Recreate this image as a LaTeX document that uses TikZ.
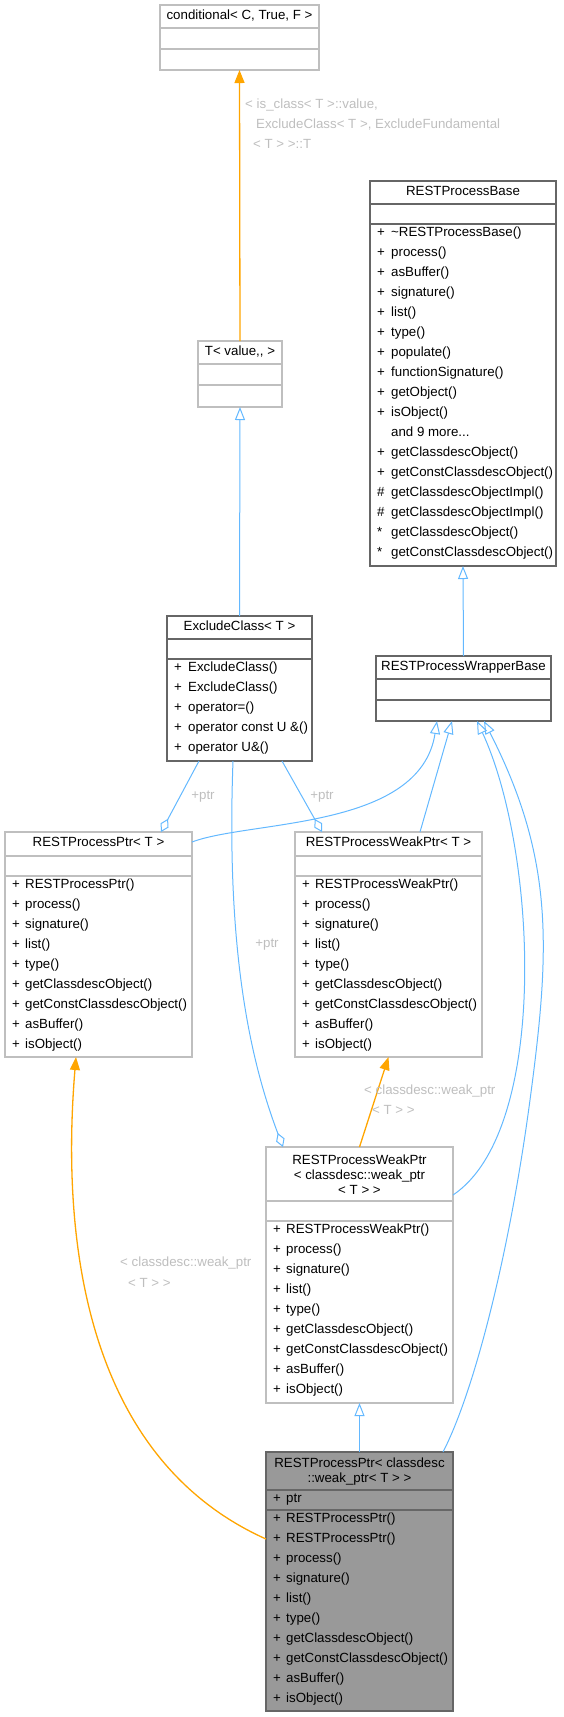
\documentclass[tikz,border=0pt]{standalone}
\usepackage{fontspec}
\setmainfont{Liberation Sans}
\usetikzlibrary{arrows.meta}

\definecolor{blu}{HTML}{63B8FF}
\definecolor{arancio}{HTML}{FFA500}
\definecolor{grigioc}{HTML}{BFBFBF}
\definecolor{grigios}{HTML}{666666}
\definecolor{grigiof}{HTML}{999999}
\definecolor{etich}{HTML}{BEBEBE}

\tikzset{
  classe/.style={rectangle, anchor=north west, inner sep=0pt, outer sep=0pt, line width=1.3pt, fill=white},
  titolo/.style={inner sep=0pt, anchor=mid, align=center},
  membro/.style={inner sep=0pt, anchor=mid west},
  etichetta/.style={inner sep=0pt, anchor=mid west, text=etich},
  eredita/.style={blu, line width=1pt, -{Triangle[open,length=13pt,width=10pt]}},
  istanza/.style={arancio, line width=1.3pt, -{Triangle[length=13pt,width=10pt]}},
  uso/.style={blu, line width=1pt, {Diamond[open,length=15pt,width=9pt]}-}
}

\begin{document}
\begin{tikzpicture}[x=1pt, y=-1pt, font=\fontsize{13.3}{15}\selectfont]
  \useasboundingbox (0,0) rectangle (563,1717);

  % Classi
  \node[classe, draw=grigioc, minimum width=159pt, minimum height=65pt] (cond) at (160,5) {};
  \node[classe, draw=grigioc, minimum width=84pt, minimum height=66pt] (tval) at (198,341) {};
  \node[classe, draw=grigios, minimum width=186pt, minimum height=385pt] (base) at (370,181) {};
  \node[classe, draw=grigios, minimum width=145pt, minimum height=145pt] (excl) at (167,616) {};
  \node[classe, draw=grigios, minimum width=175pt, minimum height=65pt] (wrap) at (376,656) {};
  \node[classe, draw=grigioc, minimum width=187pt, minimum height=225pt] (ptrT) at (5,832) {};
  \node[classe, draw=grigioc, minimum width=187pt, minimum height=225pt] (wptrT) at (295,832) {};
  \node[classe, draw=grigioc, minimum width=187pt, minimum height=256pt] (wptrC) at (266,1147) {};
  \node[classe, draw=grigios, fill=grigiof, minimum width=187pt, minimum height=259pt] (finale) at (266,1452) {};

  % Separatori
  \foreach \nodo/\su/\giu/\col in {cond/23/44/grigioc, tval/23/44/grigioc, base/23/43/grigios,
      excl/23/43/grigios, wrap/23/44/grigios, ptrT/24/44/grigioc, wptrT/24/44/grigioc,
      wptrC/54/74/grigioc, finale/38/58/grigios} {
    \draw[\col, line width=1.3pt] ([yshift=-\su pt]\nodo.north west) -- ([yshift=-\su pt]\nodo.north east);
    \draw[\col, line width=1.3pt] ([yshift=-\giu pt]\nodo.north west) -- ([yshift=-\giu pt]\nodo.north east);
  }

  % Nomi delle classi
  \node[titolo] (cond-t) at (239.5,16.5) {conditional< C, True, F >};
  \node[titolo] (tval-t) at (240,352.5) {T< value,{}, >};
  \node[titolo] (base-t) at (463,192.5) {RESTProcessBase};
  \node[titolo] (excl-t) at (239.5,627.5) {ExcludeClass< T >};
  \node[titolo] (wrap-t) at (463.5,667.5) {RESTProcessWrapperBase};
  \node[titolo] (ptrT-t) at (98.5,844) {RESTProcessPtr< T >};
  \node[titolo] (wptrT-t) at (388.5,844) {RESTProcessWeakPtr< T >};
  \node[titolo, anchor=center] (wptrC-t) at (359.5,1175) {RESTProcessWeakPtr\\< classdesc::weak\_ptr\\< T > >};
  \node[titolo, anchor=center] (finale-t) at (359.5,1472) {RESTProcessPtr< classdesc\\::weak\_ptr< T > >};

  % Membri
  \foreach \vis/\nome [count=\i from 0] in {+/\textasciitilde RESTProcessBase(), +/process(), +/asBuffer(),
      +/signature(), +/list(), +/type(), +/populate(), +/functionSignature(), +/getObject(), +/isObject(),
      {}/{and 9 more.{}.{}.}, +/getClassdescObject(), +/getConstClassdescObject(), \#/getClassdescObjectImpl(),
      \#/getClassdescObjectImpl(), */getClassdescObject(), */getConstClassdescObject()}
    \node[membro] (base-\i) at (377,{234+20*\i}) {\makebox[14pt][l]{\vis}\nome};
  \foreach \nome [count=\i from 0] in {ExcludeClass(), ExcludeClass(), operator=(), operator const U \&(), operator U\&()}
    \node[membro] (excl-\i) at (174,{669+20*\i}) {\makebox[14pt][l]{+}\nome};
  \foreach \nome [count=\i from 0] in {RESTProcessPtr(), process(), signature(), list(), type(),
      getClassdescObject(), getConstClassdescObject(), asBuffer(), isObject()}
    \node[membro] (ptrT-\i) at (12,{886+20*\i}) {\makebox[13pt][l]{+}\nome};
  \foreach \nome [count=\i from 0] in {RESTProcessWeakPtr(), process(), signature(), list(), type(),
      getClassdescObject(), getConstClassdescObject(), asBuffer(), isObject()}
    \node[membro] (wptrT-\i) at (302,{886+20*\i}) {\makebox[13pt][l]{+}\nome};
  \foreach \nome [count=\i from 0] in {RESTProcessWeakPtr(), process(), signature(), list(), type(),
      getClassdescObject(), getConstClassdescObject(), asBuffer(), isObject()}
    \node[membro] (wptrC-\i) at (273,{1231+20*\i}) {\makebox[13pt][l]{+}\nome};
  \node[membro] (finale-ptr) at (273,1500) {\makebox[13pt][l]{+}ptr};
  \foreach \nome [count=\i from 0] in {RESTProcessPtr(), RESTProcessPtr(), process(), signature(), list(), type(),
      getClassdescObject(), getConstClassdescObject(), asBuffer(), isObject()}
    \node[membro] (finale-\i) at (273,{1520+20*\i}) {\makebox[13pt][l]{+}\nome};

  % Ereditarieta
  \draw[istanza] (tval.north) -- (cond.south);
  \draw[eredita] (excl.north) -- (tval.south);
  \draw[eredita] (wrap.north) -- (base.south);
  \draw[eredita] (finale.north) -- (wptrC.south);
  \draw[eredita] ([yshift=-10pt]ptrT.north east) .. controls (250,820) and (420,830) .. ([xshift=61pt]wrap.south west);
  \draw[eredita] ([xshift=125pt]wptrT.north west) -- ([xshift=76pt]wrap.south west);
  \draw[eredita] ([yshift=-48pt]wptrC.north east) .. controls (550,1130) and (537,850) .. ([xshift=101pt]wrap.south west);
  \draw[eredita] ([xshift=177pt]finale.north west) .. controls (475,1390) and (510,1250) .. (530,1100)
    .. controls (550,950) and (555,860) .. ([xshift=108pt]wrap.south west);

  % Istanze dei template
  \draw[istanza] (wptrC.north) -- (wptrT.south);
  \draw[istanza] ([yshift=-87pt]finale.north west) .. controls (90,1460) and (60,1250) .. ([xshift=71pt]ptrT.south west);

  % Uso (+ptr)
  \draw[uso] ([xshift=156pt]ptrT.north west) -- ([xshift=32pt]excl.south west);
  \draw[uso] ([xshift=27pt]wptrT.north west) -- ([xshift=115pt]excl.south west);
  \draw[uso] ([xshift=17pt]wptrC.north west) .. controls (250,1060) and (226,950) .. ([xshift=66pt]excl.south west);

  % Etichette
  \node[etichetta] (lab1a) at (245,106) {< is\_class< T >::value,};
  \node[etichetta] (lab1b) at (256,126) {ExcludeClass< T >, ExcludeFundamental};
  \node[etichetta] (lab1c) at (253,146) {< T > >::T};
  \node[etichetta] (lab2a) at (364,1092) {< classdesc::weak\_ptr};
  \node[etichetta] (lab2b) at (372,1112) {< T > >};
  \node[etichetta] (lab3a) at (120,1264) {< classdesc::weak\_ptr};
  \node[etichetta] (lab3b) at (128,1285) {< T > >};
  \node[etichetta, anchor=mid] (ptr1) at (203,797) {+ptr};
  \node[etichetta, anchor=mid] (ptr2) at (322,797) {+ptr};
  \node[etichetta, anchor=mid] (ptr3) at (267,945) {+ptr};
\end{tikzpicture}
\end{document}
